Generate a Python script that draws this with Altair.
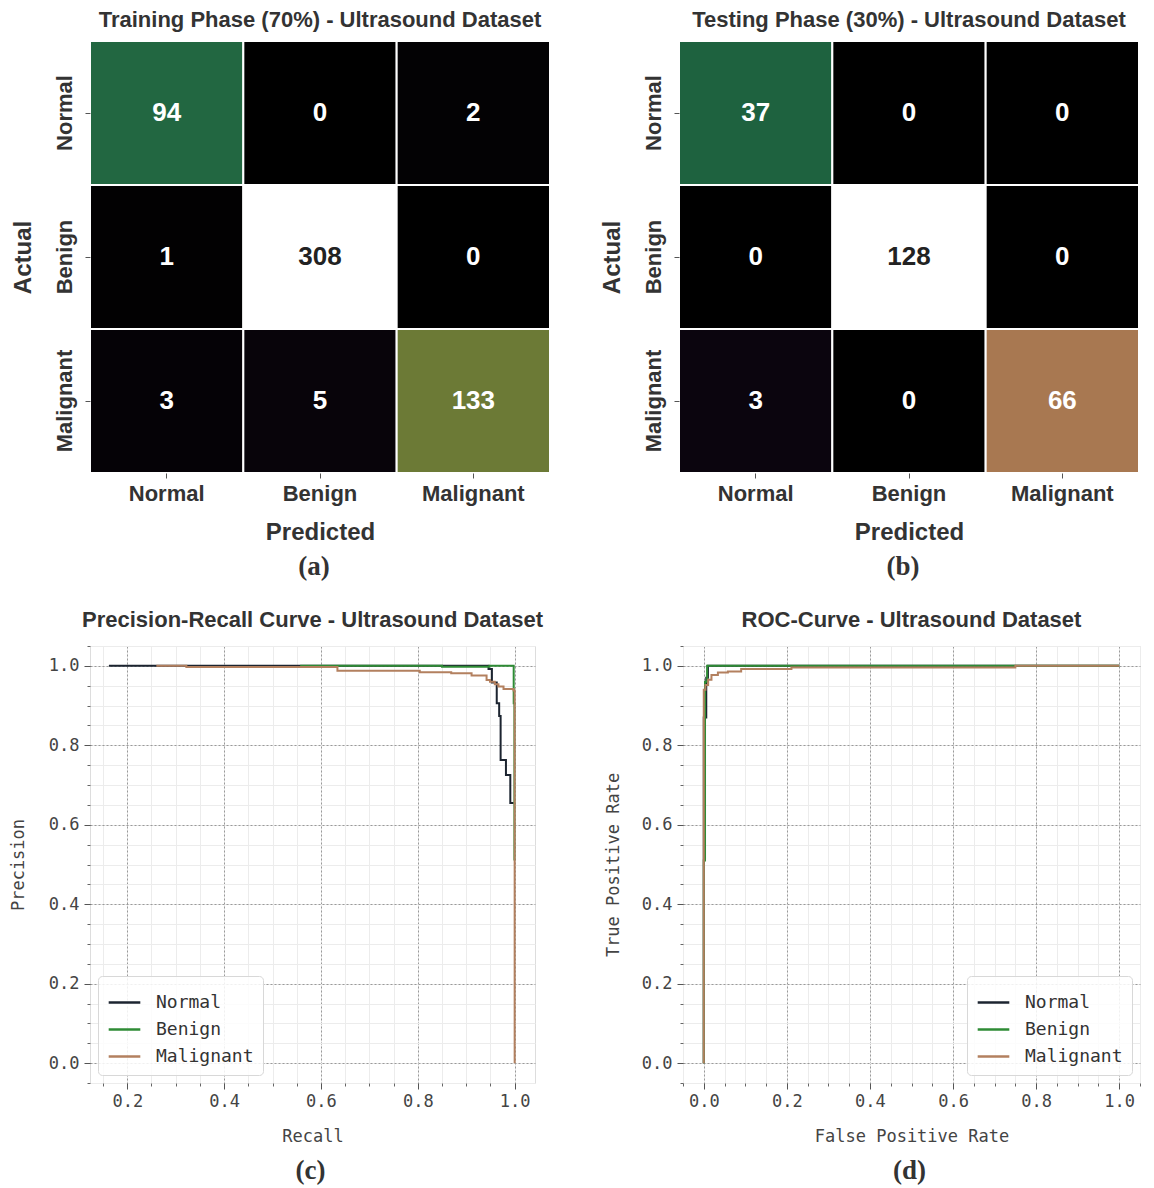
import altair as alt
import pandas as pd

# ---------------- data ----------------
classes = ["Normal", "Benign", "Malignant"]
train_matrix = [[94, 0, 2], [1, 308, 0], [3, 5, 133]]
test_matrix = [[37, 0, 0], [0, 128, 0], [3, 0, 66]]
captions = ["(a)", "(b)", "(c)", "(d)"]
cm_titles = ["Training Phase (70%) - Ultrasound Dataset", "Testing Phase (30%) - Ultrasound Dataset"]

# Precision-Recall curves (step-after vertices)
pr_normal_recall = [0.162, 0.946, 0.953, 0.963, 0.968, 0.971, 0.982, 0.991, 0.998]
pr_normal_precision = [1.0, 0.992, 0.958, 0.906, 0.874, 0.763, 0.725, 0.655, 0.655]
pr_benign_recall = [0.557, 0.85, 0.948, 0.998, 0.9995]
pr_benign_precision = [1.0, 0.998, 1.0, 0.906, 0.51]
pr_malignant_recall = [0.26, 0.322, 0.634, 0.804, 0.869, 0.911, 0.942, 0.949, 0.959, 0.9665, 0.977, 0.9977, 1.0]
pr_malignant_precision = [1.0, 0.997, 0.988, 0.984, 0.9815, 0.9755, 0.9646, 0.960, 0.954, 0.948, 0.942, 0.938, 0.0]

# ROC curves (step-after vertices)
roc_normal_fpr = [0.0, 0.0, 0.006, 0.01, 1.0]
roc_normal_tpr = [0.0, 0.87, 0.97, 1.0, 1.0]
roc_benign_fpr = [0.0, 0.0, 0.003, 0.008, 1.0]
roc_benign_tpr = [0.0, 0.51, 0.96, 1.0, 1.0]
roc_malignant_fpr = [0.0, 0.0, 0.004, 0.0105, 0.0185, 0.034, 0.058, 0.09, 0.211, 0.75, 1.0]
roc_malignant_tpr = [0.0, 0.94, 0.952, 0.965, 0.977, 0.983, 0.986, 0.992, 0.996, 1.0, 1.0]

series_colors = ["#1c2430", "#2e8b35", "#b3805f"]

SANS = "Liberation Sans"
SERIF = "Liberation Serif"
MONO = "DejaVu Sans Mono"
TXT = "#333333"


def heatmap(matrix, title, caption, W=460, H=432):
    rows = []
    for i, a in enumerate(classes):
        for j, p in enumerate(classes):
            rows.append({"actual": a, "predicted": p, "count": matrix[i][j]})
    df = pd.DataFrame(rows)
    base = alt.Chart(df).transform_joinaggregate(mx="max(count)").transform_calculate(
        norm="datum.count / datum.mx"
    )
    xenc = alt.X(
        "predicted:N", sort=classes, title="Predicted",
        axis=alt.Axis(orient="bottom", labelAngle=0, labelFont=SANS, labelFontSize=22,
                      labelFontWeight="bold", labelColor=TXT, tickSize=5, tickColor="#555",
                      labelPadding=5, domain=False, titleFont=SANS, titleFontSize=24,
                      titleFontWeight="bold", titleColor=TXT, titlePadding=16),
    )
    yenc = alt.Y(
        "actual:N", sort=classes, title="Actual",
        axis=alt.Axis(labelAngle=270, labelAlign="center", labelBaseline="bottom",
                      labelFont=SANS, labelFontSize=22, labelFontWeight="bold", labelColor=TXT,
                      tickSize=5, tickColor="#555", labelPadding=9, domain=False,
                      titleFont=SANS, titleFontSize=24, titleFontWeight="bold",
                      titleColor=TXT, titlePadding=18),
    )
    rect = base.mark_rect(stroke="white", strokeWidth=2).encode(
        x=xenc, y=yenc,
        color=alt.Color("norm:Q", legend=None,
                        scale=alt.Scale(domain=[0, 0.03, 0.3, 0.43, 0.52, 1.0],
                                        range=["#000000", "#0e0712", "#1f6641", "#6b7a35",
                                               "#ab7852", "#ffffff"],
                                        interpolate="rgb")),
    )
    text = base.mark_text(font=SANS, fontSize=26, fontWeight="bold").encode(
        x=alt.X("predicted:N", sort=classes),
        y=alt.Y("actual:N", sort=classes),
        text="count:Q",
        color=alt.condition("datum.norm > 0.8", alt.value("#222222"), alt.value("#ffffff")),
    )
    cap = alt.Chart(pd.DataFrame({"c": [caption]})).mark_text(
        font=SERIF, fontSize=27, fontWeight="bold", color=TXT
    ).encode(x=alt.value(W / 2 - 6), y=alt.value(H + 94), text="c:N")
    return alt.layer(rect, text, cap).properties(
        width=W, height=H,
        title=alt.TitleParams(text=title, font=SANS, fontSize=22, fontWeight="bold",
                              color=TXT, offset=8, anchor="middle"),
    )


def curve_df(xs_list, ys_list):
    rows = []
    for name, xs, ys in zip(classes, xs_list, ys_list):
        for k, (x, y) in enumerate(zip(xs, ys)):
            rows.append({"series": name, "x": x, "y": y, "i": k})
    return pd.DataFrame(rows)


minor_vals = [round(-0.05 + 0.05 * k, 2) for k in range(23)]


def curve_chart(df, title, xtitle, ytitle, xdomain, xmajor, legend_orient, caption, W, H, ytp):
    xs = alt.Scale(domain=xdomain, nice=False, zero=False)
    ys = alt.Scale(domain=[-0.05, 1.05], nice=False, zero=False)
    yvals = [0.0, 0.2, 0.4, 0.6, 0.8, 1.0]
    minor = alt.Chart(df).mark_point(opacity=0).encode(
        x=alt.X("x:Q", scale=xs, axis=alt.Axis(orient="bottom", values=[v for v in minor_vals if xdomain[0] <= v <= xdomain[1]],
                                              grid=True, gridColor="#ececec", gridWidth=1,
                                              labels=False, tickSize=3, tickColor="#666",
                                              domain=False, title=None)),
        y=alt.Y("y:Q", scale=ys, axis=alt.Axis(orient="left", values=[v for v in minor_vals if -0.05 <= v <= 1.05],
                                              grid=True, gridColor="#ececec", gridWidth=1,
                                              labels=False, tickSize=3, tickColor="#666",
                                              domain=False, title=None)),
    )
    lines = alt.Chart(df).mark_line(interpolate="step-after", strokeWidth=2).encode(
        x=alt.X("x:Q", scale=xs, title=xtitle,
                axis=alt.Axis(orient="bottom", values=xmajor, format=".1f", grid=True,
                              gridColor="#9a9a9a", gridDash=[2, 2], gridWidth=1,
                              tickSize=6, tickColor="#555", labelPadding=4,
                              labelFont=MONO, labelFontSize=17, labelColor="#444",
                              domain=False, titleFont=MONO, titleFontSize=17,
                              titleFontWeight="normal", titleColor="#444", titlePadding=19)),
        y=alt.Y("y:Q", scale=ys, title=ytitle,
                axis=alt.Axis(orient="left", values=yvals, format=".1f", grid=True,
                              gridColor="#9a9a9a", gridDash=[2, 2], gridWidth=1,
                              tickSize=6, tickColor="#555", labelPadding=5,
                              labelFont=MONO, labelFontSize=17, labelColor="#444",
                              domain=False, titleFont=MONO, titleFontSize=17,
                              titleFontWeight="normal", titleColor="#444", titlePadding=ytp)),
        color=alt.Color("series:N", sort=classes,
                        scale=alt.Scale(domain=classes, range=series_colors),
                        legend=alt.Legend(orient=legend_orient, title=None, offset=8,
                                          symbolType="stroke", symbolSize=1000,
                                          symbolStrokeWidth=2.5, labelFont=MONO,
                                          labelFontSize=18, labelColor="#333",
                                          labelOffset=14, rowPadding=0,
                                          fillColor="rgba(255,255,255,0.85)",
                                          strokeColor="#d8d8d8", cornerRadius=4,
                                          padding=9)),
        order=alt.Order("i:Q"),
    )
    cap = alt.Chart(pd.DataFrame({"c": [caption]})).mark_text(
        font=SERIF, fontSize=27, fontWeight="bold", color=TXT
    ).encode(x=alt.value(W / 2 - 2), y=alt.value(H + 88), text="c:N")
    return alt.layer(minor, lines, cap).resolve_axis(x="independent", y="independent").properties(
        width=W, height=H,
        title=alt.TitleParams(text=title, font=SANS, fontSize=22, fontWeight="bold",
                              color=TXT, offset=14, anchor="middle"),
    )


pr_df = curve_df([pr_normal_recall, pr_benign_recall, pr_malignant_recall],
                 [pr_normal_precision, pr_benign_precision, pr_malignant_precision])
roc_df = curve_df([roc_normal_fpr, roc_benign_fpr, roc_malignant_fpr],
                  [roc_normal_tpr, roc_benign_tpr, roc_malignant_tpr])

cm1 = heatmap(train_matrix, cm_titles[0], captions[0])
cm2 = heatmap(test_matrix, cm_titles[1], captions[1])
pr = curve_chart(pr_df, "Precision-Recall Curve - Ultrasound Dataset", "Recall", "Precision",
                 [0.123, 1.042], [0.2, 0.4, 0.6, 0.8, 1.0], "bottom-left", captions[2], 445, 437, 21)
roc = curve_chart(roc_df, "ROC-Curve - Ultrasound Dataset", "False Positive Rate",
                  "True Positive Rate", [-0.05, 1.05], [0.0, 0.2, 0.4, 0.6, 0.8, 1.0],
                  "bottom-right", captions[3], 457, 437, 19)

top = alt.hconcat(cm1, cm2, spacing=47).resolve_scale(color="independent")
bottom = alt.hconcat(pr, roc, spacing=59)
chart = alt.vconcat(top, bottom, spacing=27).resolve_scale(color="independent").properties(
    padding={"left": 0, "top": 0, "right": 0, "bottom": 0}
).configure_view(stroke="#555555", strokeWidth=1).configure(background="white")

chart.save("out.html", embed_options={"renderer": "svg", "actions": False})
